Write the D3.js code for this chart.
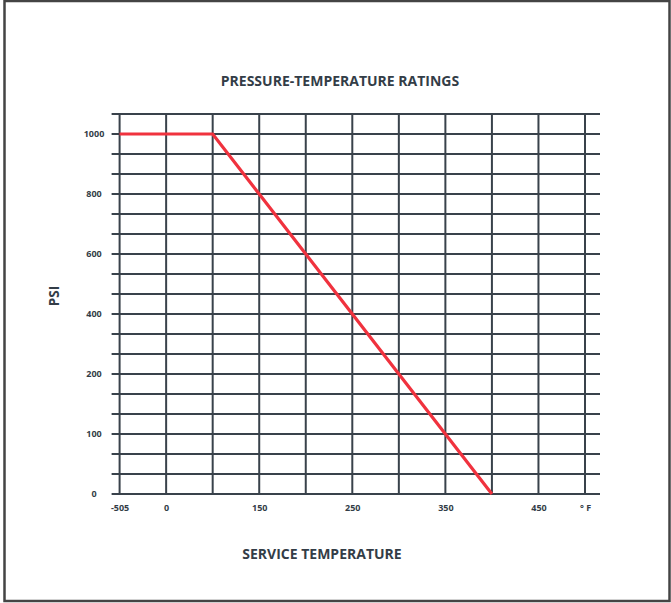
<!DOCTYPE html>
<html>
<head>
<meta charset="utf-8">
<script src="https://cdn.jsdelivr.net/npm/d3@7"></script>
<style>
  body { margin: 0; background: #fff; }
  svg { display: block; }
</style>
</head>
<body>
<svg id="chart" width="671" height="603"></svg>
<script>
// grid columns (deg F) and rows (psi), as drawn on the chart
const tempGrid = [-505, 0, 100, 150, 200, 250, 300, 350, 400, 450, 500];
const tempTicks = [-505, 0, 150, 250, 350, 450, 500];
const psiTicks = [0, 100, 200, 400, 600, 800, 1000];
const psiTickRow = [0, 3, 6, 9, 12, 15, 18];
const rowCount = 19;

// rating curve
const temps = [-505, 100, 150, 200, 250, 300, 350, 400];
const psi = [1000, 1000, 800, 600, 400, 200, 100, 0];

const width = 671, height = 603;
const margin = { top: 114, right: 86, bottom: 109, left: 119.6 };
const gridColor = "#39424b";
const textColor = "#333d47";
const fontFamily = "'Open Sans', 'Noto Sans', sans-serif";

const svg = d3.select("#chart");

svg.append("rect")
    .attr("x", 4.5).attr("y", 1)
    .attr("width", 665).attr("height", 600)
    .attr("fill", "none")
    .attr("stroke", "#444")
    .attr("stroke-width", 2.5);

const colIdx = d3.scaleLinear().domain([0, tempGrid.length - 1]).range([margin.left, width - margin.right]);
const rowIdx = d3.scaleLinear().domain([0, rowCount]).range([height - margin.bottom, margin.top]);

const x = d3.scaleLinear()
    .domain(tempGrid)
    .range(tempGrid.map((d, i) => colIdx(i)));

const y = d3.scaleLinear()
    .domain(psiTicks)
    .range(psiTickRow.map(r => rowIdx(r)));

const grid = svg.append("g")
    .attr("stroke", gridColor)
    .attr("stroke-width", 2);

grid.selectAll(".h")
    .data(d3.range(rowCount + 1))
    .join("line")
    .attr("x1", margin.left - 8)
    .attr("x2", width - margin.right + 15)
    .attr("y1", d => rowIdx(d))
    .attr("y2", d => rowIdx(d));

grid.selectAll(".v")
    .data(tempGrid)
    .join("line")
    .attr("x1", d => x(d))
    .attr("x2", d => x(d))
    .attr("y1", rowIdx(rowCount))
    .attr("y2", rowIdx(0));

const line = d3.line()
    .x((d, i) => x(temps[i]))
    .y(d => y(d));

svg.append("path")
    .datum(psi)
    .attr("fill", "none")
    .attr("stroke", "#f0323e")
    .attr("stroke-width", 3.2)
    .attr("d", line);

const xAxis = d3.axisBottom(x)
    .tickValues(tempTicks)
    .tickSize(0)
    .tickPadding(11)
    .tickFormat(d => d === 500 ? "° F" : String(d));

svg.append("g")
    .attr("transform", "translate(0," + rowIdx(0) + ")")
    .call(xAxis)
    .call(g => g.select(".domain").remove())
    .selectAll("text")
    .style("font-family", fontFamily)
    .style("font-weight", 700)
    .style("font-size", "9px")
    .style("fill", textColor);

const yAxis = d3.axisLeft(y)
    .tickValues(psiTicks)
    .tickSize(0)
    .tickPadding(0)
    .tickFormat(d => String(d));

svg.append("g")
    .attr("transform", "translate(94,0)")
    .call(yAxis)
    .call(g => g.select(".domain").remove())
    .selectAll("text")
    .attr("text-anchor", "middle")
    .style("font-family", fontFamily)
    .style("font-weight", 700)
    .style("font-size", "9px")
    .style("fill", textColor);

svg.append("text")
    .attr("x", 340)
    .attr("y", 86)
    .attr("text-anchor", "middle")
    .style("font-family", fontFamily)
    .style("font-weight", 700)
    .style("font-size", "14px")
    .style("fill", textColor)
    .text("PRESSURE-TEMPERATURE RATINGS");

svg.append("text")
    .attr("x", 322)
    .attr("y", 559)
    .attr("text-anchor", "middle")
    .style("font-family", fontFamily)
    .style("font-weight", 700)
    .style("font-size", "14px")
    .style("fill", textColor)
    .text("SERVICE TEMPERATURE");

svg.append("text")
    .attr("transform", "translate(59,296) rotate(-90)")
    .attr("text-anchor", "middle")
    .style("font-family", fontFamily)
    .style("font-weight", 700)
    .style("font-size", "13.5px")
    .style("fill", textColor)
    .text("PSI");
</script>
</body>
</html>
